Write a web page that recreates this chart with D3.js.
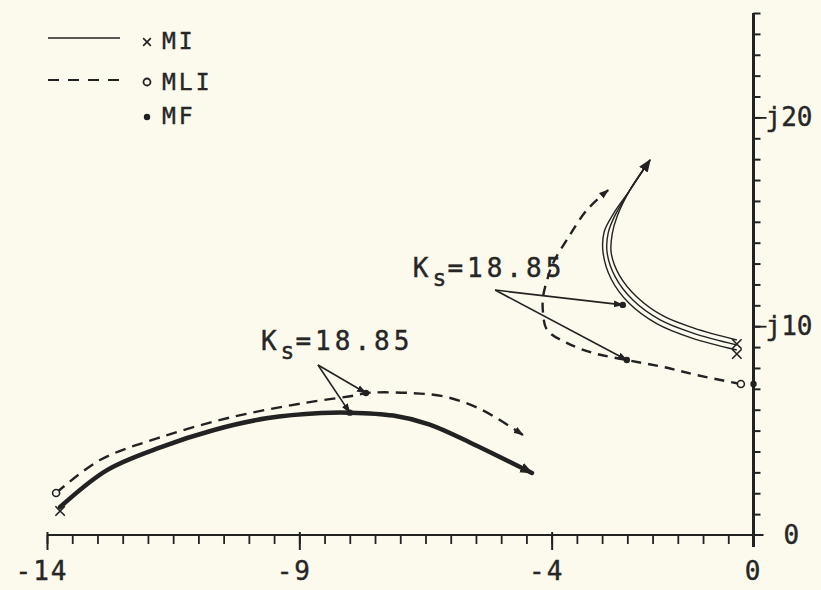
<!DOCTYPE html>
<html>
<head>
<meta charset="utf-8">
<script src="https://cdn.jsdelivr.net/npm/d3@7"></script>
<style>
body{margin:0;background:#fcfaec;}
svg{display:block;}
text{font-family:"DejaVu Sans Mono","Liberation Mono",monospace;fill:#262626;stroke:#262626;stroke-width:0.4px;}
</style>
</head>
<body>
<script>
// tick labels
var xTickLabels = [-14, -9, -4, 0];
var yTickValues = [0, 10, 20];
var yTickLabels = ["0", "j10", "j20"];

// lower root locus, MI (solid) and MLI (dashed)
var miLowX  = [-13.74, -12.81, -11.74, -10.69, -9.62, -8.57, -8.00, -7.14, -6.43, -5.60, -4.39];
var miLowY  = [1.34, 3.11, 4.21, 5.03, 5.60, 5.84, 5.86, 5.72, 5.30, 4.41, 2.97];
var mliLowX = [-13.82, -12.95, -11.74, -10.33, -8.91, -7.86, -7.68, -6.79, -6.09, -5.38, -4.57];
var mliLowY = [2.01, 3.59, 4.69, 5.65, 6.32, 6.70, 6.80, 6.80, 6.61, 5.99, 4.79];

// upper root locus, MI drawn as three close lines
var miUpX1 = [-0.33, -1.18, -1.79, -2.31, -2.66, -2.82, -2.80, -2.70, -2.45, -2.05];
var miUpY1 = [9.34, 9.91, 10.49, 11.40, 12.45, 13.51, 14.42, 15.28, 16.52, 17.96];
var miUpX2 = [-0.33, -1.20, -1.85, -2.39, -2.74, -2.90, -2.88, -2.74, -2.45, -2.05];
var miUpY2 = [9.10, 9.67, 10.30, 11.25, 12.36, 13.51, 14.46, 15.33, 16.52, 17.96];
var miUpX3 = [-0.33, -1.22, -1.91, -2.47, -2.82, -2.98, -2.96, -2.78, -2.45, -2.05];
var miUpY3 = [8.86, 9.43, 10.11, 11.11, 12.26, 13.51, 14.51, 15.37, 16.52, 17.96];
var mliUpX = [-0.25, -1.12, -1.79, -2.51, -3.18, -3.70, -4.09, -4.17, -4.17, -4.09, -3.97, -3.70, -3.30, -2.88];
var mliUpY = [7.23, 7.66, 8.05, 8.38, 8.72, 9.20, 9.82, 10.63, 11.40, 12.21, 13.03, 14.13, 15.57, 16.52];

// MF points (Ks = 18.85)
var mfX = [-8.00, -7.68, -2.59, -2.51, 0];
var mfY = [5.86, 6.80, 11.02, 8.38, 7.23];

// annotations: label anchor, pointer origin, pointer targets (index into mf)
var noteText = ["18.85", "18.85"];
var noteX = [-9.76, -6.75];
var noteY = [8.86, 12.36];
var pointerX = [-8.63, -5.12];
var pointerY = [8.14, 11.73];
var pointerTo = [[0, 1], [2, 3]];

var width = 821, height = 590;
var ink = "#222";
var paper = "#fcfaec";

var svg = d3.select("body").append("svg")
    .attr("width", width)
    .attr("height", height)
    .style("background", paper);

var x = d3.scaleLinear().domain([-14, 0]).range([47, 753.5]);
var y = d3.scaleLinear().domain([0, 25]).range([535, 13]);

function pts(xs, ys) {
	return xs.map(function (d, i) { return [d, ys[i]]; });
}

var line = d3.line()
	.x(function (d) { return x(d[0]); })
	.y(function (d) { return y(d[1]); })
	.curve(d3.curveCatmullRom.alpha(0.5));

// arrow heads
var defs = svg.append("defs");
defs.append("marker")
	.attr("id", "arr")
	.attr("viewBox", "0 0 10 10")
	.attr("refX", 9).attr("refY", 5)
	.attr("markerWidth", 13).attr("markerHeight", 13)
	.attr("markerUnits", "userSpaceOnUse")
	.attr("orient", "auto")
	.append("path").attr("d", "M0,1 L10,5 L0,9 Z").attr("fill", ink);
defs.append("marker")
	.attr("id", "arrSmall")
	.attr("viewBox", "0 0 10 10")
	.attr("refX", 9).attr("refY", 5)
	.attr("markerWidth", 10).attr("markerHeight", 10)
	.attr("markerUnits", "userSpaceOnUse")
	.attr("orient", "auto")
	.append("path").attr("d", "M0,1.5 L10,5 L0,8.5 Z").attr("fill", ink);

// x axis
var xLine = 535;
svg.append("line")
	.attr("x1", x(-14)).attr("x2", x(0) + 10)
	.attr("y1", xLine).attr("y2", xLine)
	.attr("stroke", ink).attr("stroke-width", 2);

var minorX = d3.range(-14, 0, 0.5);
svg.append("g")
	.attr("transform", "translate(0," + xLine + ")")
	.call(d3.axisBottom(x).tickValues(minorX).tickSize(9).tickFormat(""))
	.call(function (g) {
		g.select(".domain").remove();
		g.selectAll("line").attr("stroke", ink).attr("stroke-width", 1.8);
	});
svg.append("g")
	.attr("transform", "translate(0," + xLine + ")")
	.call(d3.axisBottom(x).tickValues([-14, -9, -4]).tickSize(15).tickFormat(""))
	.call(function (g) {
		g.select(".domain").remove();
		g.selectAll("line").attr("stroke", ink).attr("stroke-width", 2).attr("y1", -3);
	});

svg.selectAll(".xlab").data(xTickLabels).enter().append("text")
	.attr("class", "xlab")
	.attr("x", function (d) { return x(d) - (d < 0 ? 5 : 0); })
	.attr("y", 580)
	.attr("text-anchor", "middle")
	.style("font-size", "26px")
	.style("letter-spacing", "2px")
	.text(function (d) { return d; });

// y axis
svg.append("line")
	.attr("x1", x(0)).attr("x2", x(0))
	.attr("y1", y(25)).attr("y2", xLine + 12)
	.attr("stroke", ink).attr("stroke-width", 3);

svg.append("g")
	.attr("transform", "translate(" + x(0) + ",0)")
	.call(d3.axisRight(y).tickValues(d3.range(1, 26)).tickSize(7).tickFormat(""))
	.call(function (g) {
		g.select(".domain").remove();
		g.selectAll("line").attr("stroke", ink).attr("stroke-width", 2);
	});
svg.append("g")
	.attr("transform", "translate(" + x(0) + ",0)")
	.call(d3.axisRight(y).tickValues([10, 20]).tickSize(13).tickFormat(""))
	.call(function (g) {
		g.select(".domain").remove();
		g.selectAll("line").attr("stroke", ink).attr("stroke-width", 1.8);
	});

svg.selectAll(".ylab").data(yTickValues).enter().append("text")
	.attr("class", "ylab")
	.attr("x", function (d, i) { return i == 0 ? x(0) + 30 : x(0) + 12; })
	.attr("y", function (d) { return y(d) + 9; })
	.style("font-size", "26px")
	.text(function (d, i) { return yTickLabels[i]; });

// MI lower: thick solid
svg.append("path")
	.attr("d", line(pts(miLowX, miLowY)))
	.attr("fill", "none").attr("stroke", ink)
	.attr("stroke-width", 4.5).attr("stroke-linecap", "round")
	.attr("marker-end", "url(#arr)");

// MLI lower: dashed
svg.append("path")
	.attr("d", line(pts(mliLowX, mliLowY)))
	.attr("fill", "none").attr("stroke", ink)
	.attr("stroke-width", 2.4).attr("stroke-dasharray", "11,7")
	.attr("marker-end", "url(#arrSmall)");

// MI upper: triple line
[[miUpX1, miUpY1], [miUpX2, miUpY2], [miUpX3, miUpY3]].forEach(function (s, i) {
	svg.append("path")
		.attr("d", line(pts(s[0], s[1])))
		.attr("fill", "none").attr("stroke", ink)
		.attr("stroke-width", 1.4)
		.attr("marker-end", i == 1 ? "url(#arr)" : null);
});

// MLI upper: dashed
svg.append("path")
	.attr("d", line(pts(mliUpX, mliUpY)))
	.attr("fill", "none").attr("stroke", ink)
	.attr("stroke-width", 2.4).attr("stroke-dasharray", "10,7")
	.attr("marker-end", "url(#arrSmall)");

// start markers: x for MI, o for MLI
var cross = d3.symbol().type(d3.symbolX).size(60);
[[miLowX, miLowY], [miUpX1, miUpY1], [miUpX3, miUpY3]].forEach(function (s) {
	svg.append("path")
		.attr("d", cross)
		.attr("transform", "translate(" + x(s[0][0]) + "," + (y(s[1][0]) + 4) + ")")
		.attr("fill", "none").attr("stroke", ink).attr("stroke-width", 1.6);
});
[[mliLowX, mliLowY], [mliUpX, mliUpY]].forEach(function (s) {
	svg.append("circle")
		.attr("cx", x(s[0][0])).attr("cy", y(s[1][0]))
		.attr("r", 3.5)
		.attr("fill", paper).attr("stroke", ink).attr("stroke-width", 1.6);
});

// MF dots
svg.selectAll(".mf").data(mfX).enter().append("circle")
	.attr("class", "mf")
	.attr("cx", function (d) { return x(d); })
	.attr("cy", function (d, i) { return y(mfY[i]); })
	.attr("r", 3.2)
	.attr("fill", ink);

// annotations
noteText.forEach(function (t, i) {
	var lab = svg.append("text")
		.attr("x", x(noteX[i]))
		.attr("y", y(noteY[i]))
		.style("font-size", "26px")
		.style("letter-spacing", "4px");
	lab.append("tspan").text("K");
	lab.append("tspan").attr("dy", 9).style("font-size", "23px").style("letter-spacing", "1px").text("s");
	lab.append("tspan").attr("dy", -9).text("=" + t);

	pointerTo[i].forEach(function (k) {
		svg.append("line")
			.attr("x1", x(pointerX[i])).attr("y1", y(pointerY[i]))
			.attr("x2", x(mfX[k])).attr("y2", y(mfY[k]))
			.attr("stroke", ink).attr("stroke-width", 1.6)
			.attr("marker-end", "url(#arrSmall)");
	});
});

// legend
var legend = svg.append("g");
legend.append("line").attr("x1", 48).attr("x2", 120).attr("y1", 38).attr("y2", 38)
	.attr("stroke", ink).attr("stroke-width", 1.6);
legend.append("line").attr("x1", 48).attr("x2", 120).attr("y1", 80).attr("y2", 80)
	.attr("stroke", ink).attr("stroke-width", 1.8).attr("stroke-dasharray", "11,9");
legend.append("path").attr("d", d3.symbol().type(d3.symbolX).size(40))
	.attr("transform", "translate(147,42)")
	.attr("fill", "none").attr("stroke", ink).attr("stroke-width", 1.6);
legend.append("circle").attr("cx", 147).attr("cy", 82).attr("r", 3.5)
	.attr("fill", "none").attr("stroke", ink).attr("stroke-width", 1.8);
legend.append("circle").attr("cx", 147).attr("cy", 117).attr("r", 3.2)
	.attr("fill", ink);
var legNames = ["MI", "MLI", "MF"];
var legY = [49, 90, 124];
legNames.forEach(function (n, i) {
	legend.append("text")
		.attr("x", 162).attr("y", legY[i])
		.style("font-size", "23px")
		.style("letter-spacing", "3px")
		.text(n);
});
</script>
</body>
</html>
